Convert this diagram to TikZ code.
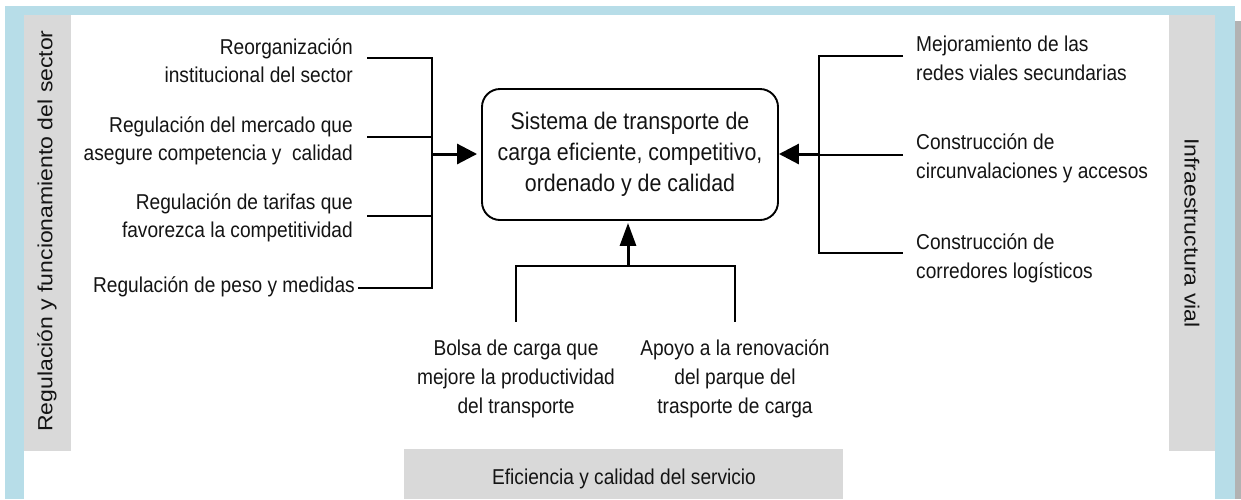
\documentclass[tikz,border=0pt]{standalone}
\usepackage{fontspec}
\setmainfont{Liberation Sans}[FakeStretch=0.89]
\newfontfamily\sidefont{Liberation Sans}
\usetikzlibrary{arrows.meta}
\definecolor{frameblue}{RGB}{183,221,232}
\definecolor{bargray}{RGB}{217,217,217}
\definecolor{shadowgray}{RGB}{178,178,178}
\definecolor{txt}{RGB}{20,20,20}
\begin{document}
\begin{tikzpicture}[x=1pt,y=-1pt,
  lbl/.style={font=\fontsize{21.5}{28}\selectfont, align=right, anchor=east, inner sep=0pt, text=txt},
  rlbl/.style={font=\fontsize{21.5}{29}\selectfont, align=left, anchor=west, inner sep=0pt, text=txt},
  blbl/.style={font=\fontsize{21.5}{29}\selectfont, align=center, inner sep=0pt, text=txt},
  sidelbl/.style={font=\sidefont\fontsize{23}{28}\selectfont, inner sep=0pt, text=txt},
  ln/.style={line width=1.9pt, draw=black},
  arr/.style={line width=3pt, draw=black, -{Triangle[length=20pt,width=20pt]}},
  uparr/.style={line width=3pt, draw=black, -{Triangle[length=23pt,width=16pt]}},
  mainbox/.style={draw=black, line width=1.9pt, rounded corners=18pt, minimum width=296pt,
    minimum height=131pt, align=center, inner sep=0pt, text=txt, font=\fontsize{24}{31}\selectfont}
]
\useasboundingbox (0,0) rectangle (1241,499);
% frame
\fill[white] (0,0) rectangle (1241,499);
\fill[shadowgray] (1235,21) rectangle (1241,499);
\fill[frameblue] (5,6) rectangle (1235,499);
\fill[white] (24,15) rectangle (1215,499);
\fill[bargray] (24,15) rectangle (71,451);
\fill[bargray] (1169,15) rectangle (1215,451);
\fill[bargray] (404,449) rectangle (843,499);

% side labels
\node[sidelbl, rotate=90] (sideL) at (47,231) {\scalebox{1}[0.89]{Regulación y funcionamiento del sector}};
\node[sidelbl, rotate=-90] (sideR) at (1192,233) {\scalebox{1}[0.89]{Infraestructura vial}};
\node[blbl] (sideB) at (624,479) {Eficiencia y calidad del servicio};

% central box
\node[mainbox] (box) at (630,154.5) {Sistema de transporte de\\carga eficiente, competitivo,\\ordenado y de calidad};

% left items
\node[lbl] (L1) at (353,61) {Reorganización\\institucional del sector};
\node[lbl] (L2) at (353,141) {Regulación del mercado que\\asegure competencia y \ calidad};
\node[lbl] (L3) at (353,218) {Regulación de tarifas que\\favorezca la competitividad};
\node[lbl] (L4) at (355,287) {Regulación de peso y medidas};

\coordinate (ltop) at (432,58);
\coordinate (lbot) at (432,288);
\coordinate (lmid) at (432,154);
\draw[ln] ([xshift=14pt,yshift=3pt]L1.east) -- (ltop) -- (lbot) -- ([xshift=3pt,yshift=-1pt]L4.east);
\draw[ln] ([xshift=14pt,yshift=4pt]L2.east) -- ++(65,0);
\draw[ln] ([xshift=14pt,yshift=2pt]L3.east) -- ++(65,0);
\draw[arr, shorten >=4pt] (lmid) -- (lmid -| box.west);

% right items
\node[rlbl] (R1) at (916,58) {Mejoramiento de las\\redes viales secundarias};
\node[rlbl] (R2) at (916,158) {Construcción de\\circunvalaciones y accesos};
\node[rlbl] (R3) at (916,258) {Construcción de\\corredores logísticos};

\coordinate (rtop) at (819,56);
\coordinate (rbot) at (819,253);
\coordinate (rmid) at (819,154);
\draw[ln] ([xshift=-13pt,yshift=2pt]R1.west) -- (rtop) -- (rbot) -- ([xshift=-13pt,yshift=5pt]R3.west);
\draw[ln] ([xshift=-13pt,yshift=3pt]R2.west) -- ++(-84,0);
\draw[arr] (rmid) -- (rmid -| box.east);

% bottom items
\node[blbl] (B1) at (516,379) {Bolsa de carga que\\mejore la productividad\\del transporte};
\node[blbl] (B2) at (735,379) {Apoyo a la renovación\\del parque del\\trasporte de carga};

\coordinate (bl) at (516,266);
\coordinate (br) at (735,266);
\coordinate (bm) at (628,266);
\draw[ln] ([yshift=18pt]B1.north) -- (bl) -- (br) -- ([yshift=18pt]B2.north);
\draw[uparr, shorten >=2pt] (bm) -- (bm |- box.south);
\end{tikzpicture}
\end{document}
